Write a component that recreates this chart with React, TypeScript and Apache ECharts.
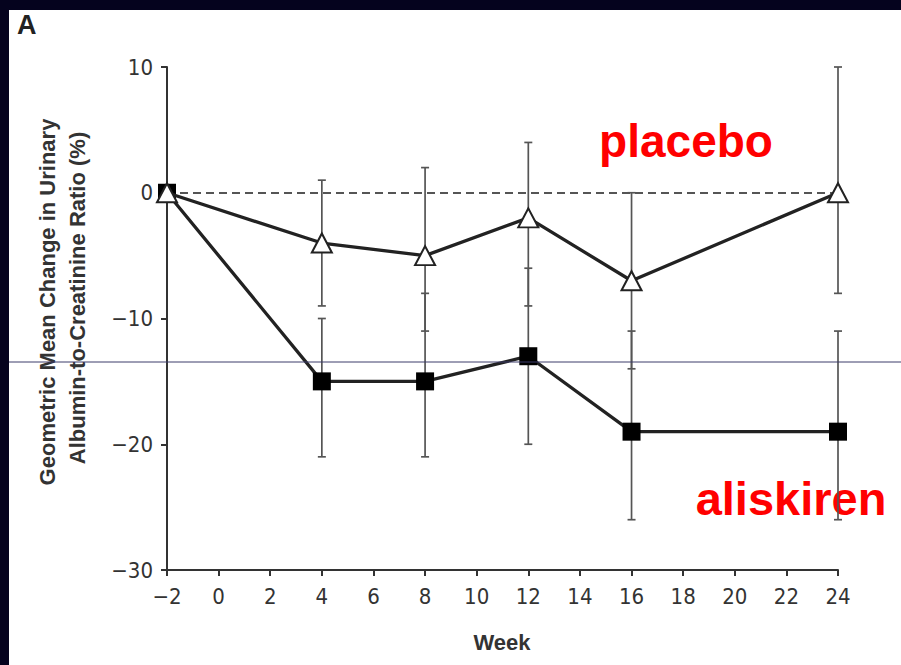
import React, { useEffect, useRef } from "react";
import * as echarts from "echarts";

const weeks = [-2, 4, 8, 12, 16, 24];
const placebo = [0, -4, -5, -2, -7, 0];
const placeboLow = [0, -9, -11, -9, -14, -8];
const placeboHigh = [0, 1, 2, 4, 0, 10];
const aliskiren = [0, -15, -15, -13, -19, -19];
const aliskirenLow = [0, -21, -21, -20, -26, -26];
const aliskirenHigh = [0, -10, -8, -6, -11, -11];

const xTicks = { min: -2, max: 24, interval: 2 };
const yTicks = { min: -30, max: 10, interval: 10 };

const yTitle1 = "Geometric Mean Change in Urinary";
const yTitle2 = "Albumin-to-Creatinine Ratio (%)";
const xTitle = "Week";
const panelLabel = "A";
const placeboLabel = "placebo";
const aliskirenLabel = "aliskiren";

const NAVY = "#05031e";
const TICK_FONT = "'Liberation Sans Narrow', 'DejaVu Sans Condensed', 'Liberation Sans', sans-serif";
const TITLE_FONT = "'Liberation Sans', Arial, sans-serif";

const fmt = (v: number) => (v < 0 ? "\u2212" + Math.abs(v) : String(v));

function errorData(low: number[], high: number[]) {
  return weeks
    .map((w, i) => [w, low[i], high[i]])
    .filter((d) => d[1] !== d[2]);
}

const renderErr = (params: any, api: any) => {
  const x = api.value(0);
  const lo = api.coord([x, api.value(1)]);
  const hi = api.coord([x, api.value(2)]);
  const cap = 4;
  const style = { stroke: "#555", lineWidth: 1.7 };
  return {
    type: "group",
    children: [
      { type: "line", shape: { x1: lo[0], y1: lo[1], x2: hi[0], y2: hi[1] }, style },
      { type: "line", shape: { x1: lo[0] - cap, y1: lo[1], x2: lo[0] + cap, y2: lo[1] }, style },
      { type: "line", shape: { x1: hi[0] - cap, y1: hi[1], x2: hi[0] + cap, y2: hi[1] }, style },
    ],
  };
};

export default function App() {
  const ref = useRef<HTMLDivElement>(null);
  useEffect(() => {
    if (!ref.current) return;
    const chart = echarts.init(ref.current, null, { renderer: "svg" });
    const axisCommon = {
      axisLine: { show: true, onZero: false, lineStyle: { color: "#333", width: 2 } },
      axisTick: { show: true, inside: false, length: 6, lineStyle: { color: "#333", width: 2 } },
      splitLine: { show: false },
    };
    chart.setOption({
      animation: false,
      backgroundColor: "transparent",
      grid: { left: 167, right: 63, top: 67, bottom: 95, containLabel: false },
      xAxis: {
        type: "value",
        ...xTicks,
        ...axisCommon,
        axisLabel: {
          formatter: fmt,
          color: "#333",
          fontSize: 22,
          fontFamily: TICK_FONT,
          margin: 15,
        },
      },
      yAxis: {
        type: "value",
        ...yTicks,
        ...axisCommon,
        axisLabel: {
          formatter: fmt,
          color: "#333",
          fontSize: 22,
          fontFamily: TICK_FONT,
          margin: 14,
        },
      },
      graphic: [
        {
          type: "line",
          shape: { x1: 9, y1: 362, x2: 901, y2: 362 },
          style: { stroke: "#3c3c6a", lineWidth: 1 },
          z: 100,
        },
        {
          type: "text",
          x: 17,
          y: 11,
          style: { text: panelLabel, fontSize: 27, fontWeight: "bold", fill: "#222", fontFamily: TITLE_FONT },
        },
        {
          type: "text",
          x: 47,
          y: 302,
          rotation: Math.PI / 2,
          style: {
            text: yTitle1,
            fontSize: 22,
            fontWeight: "bold",
            fill: "#333",
            fontFamily: TITLE_FONT,
            align: "center",
            verticalAlign: "middle",
          },
        },
        {
          type: "text",
          x: 77,
          y: 298,
          rotation: Math.PI / 2,
          style: {
            text: yTitle2,
            fontSize: 22,
            fontWeight: "bold",
            fill: "#333",
            fontFamily: TITLE_FONT,
            align: "center",
            verticalAlign: "middle",
          },
        },
        {
          type: "text",
          x: 502,
          y: 642,
          style: {
            text: xTitle,
            fontSize: 22,
            fontWeight: "bold",
            fill: "#333",
            fontFamily: TITLE_FONT,
            align: "center",
            verticalAlign: "middle",
          },
        },
        {
          type: "text",
          x: 686,
          y: 118,
          style: {
            text: placeboLabel,
            fontSize: 46,
            fontWeight: "bold",
            fill: "#ff0000",
            fontFamily: TITLE_FONT,
            align: "center",
            verticalAlign: "top",
          },
        },
        {
          type: "text",
          x: 791,
          y: 475,
          style: {
            text: aliskirenLabel,
            fontSize: 47,
            fontWeight: "bold",
            fill: "#ff0000",
            fontFamily: TITLE_FONT,
            align: "center",
            verticalAlign: "top",
          },
        },
      ],
      series: [
        {
          type: "custom",
          name: "placeboErr",
          renderItem: renderErr,
          data: errorData(placeboLow, placeboHigh),
          z: 1,
          silent: true,
        },
        {
          type: "custom",
          name: "aliskirenErr",
          renderItem: renderErr,
          data: errorData(aliskirenLow, aliskirenHigh),
          z: 1,
          silent: true,
        },
        {
          type: "line",
          name: "placebo",
          data: weeks.map((w, i) => [w, placebo[i]]),
          symbol: "triangle",
          symbolSize: [20, 19],
          showAllSymbol: true,
          lineStyle: { color: "#222", width: 3.3 },
          itemStyle: { color: "#ffffff", borderColor: "#222", borderWidth: 2 },
          z: 4,
          markLine: {
            silent: true,
            symbol: "none",
            label: { show: false },
            lineStyle: { color: "#555", type: [8, 5], width: 2 },
            data: [{ yAxis: 0 }],
            z: 2,
          },
        },
        {
          type: "line",
          name: "aliskiren",
          data: weeks.map((w, i) => [w, aliskiren[i]]),
          symbol: "rect",
          symbolSize: 18,
          showAllSymbol: true,
          lineStyle: { color: "#222", width: 3.3 },
          itemStyle: { color: "#000000", borderColor: "#000", borderWidth: 0 },
          z: 3,
        },
      ],
    });
    return () => chart.dispose();
  }, []);

  return (
    <div style={{ position: "absolute", left: 0, top: 0, width: 901, height: 665, background: NAVY, overflow: "hidden" }}>
      <div style={{ position: "absolute", left: 9, top: 10, width: 892, height: 655, background: "#ffffff" }} />
      <div ref={ref} style={{ position: "absolute", left: 0, top: 0, width: 901, height: 665 }} />
    </div>
  );
}
